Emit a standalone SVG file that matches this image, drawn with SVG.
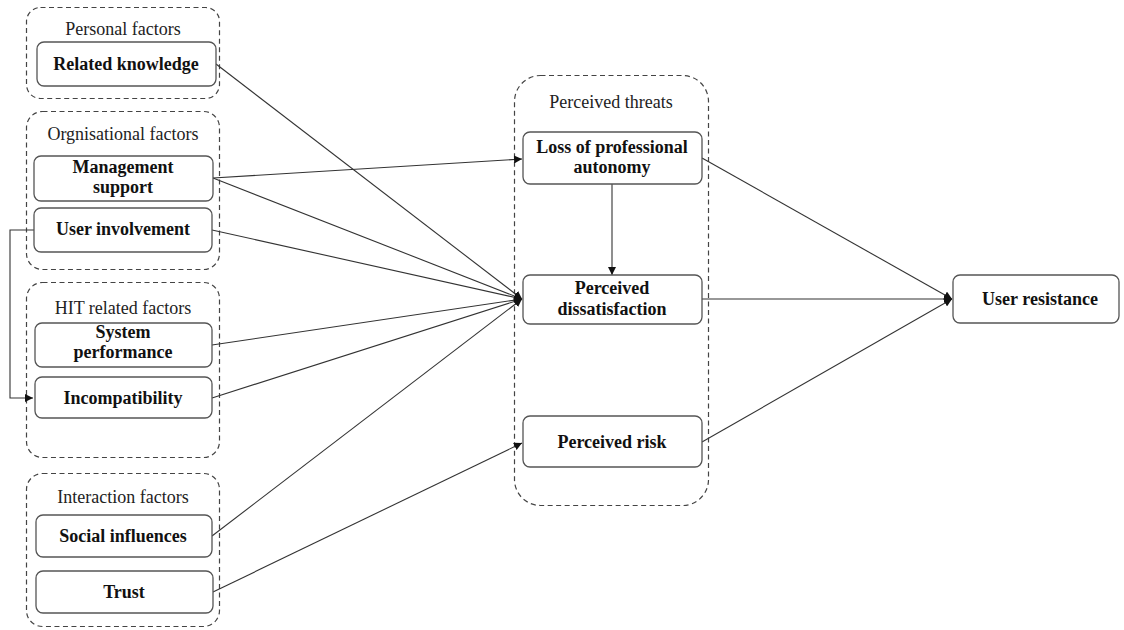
<svg xmlns="http://www.w3.org/2000/svg" width="1124" height="630" viewBox="0 0 1124 630">
  <style>
    .grp { fill: none; stroke: #444; stroke-width: 1.2; stroke-dasharray: 5 3.5; }
    .box { fill: #fff; stroke: #555; stroke-width: 1.3; }
    .glabel { font-family: "Liberation Serif", "Times New Roman", serif; font-size: 18px; fill: #222; text-anchor: middle; }
    .nlabel { font-family: "Liberation Serif", "Times New Roman", serif; font-size: 18px; font-weight: bold; fill: #111; text-anchor: middle; }
    .edge { fill: none; stroke: #333; stroke-width: 1.1; }
  </style>
  <defs>
    <marker id="arrow" viewBox="0 0 10 10" refX="10" refY="5" markerWidth="8" markerHeight="8" markerUnits="userSpaceOnUse" orient="auto">
      <path d="M0,0 L10,5 L0,10 z" fill="#111"/>
    </marker>
  </defs>
  <rect width="1124" height="630" fill="#fff"/>

  <!-- factor groups -->
  <g id="group-personal">
    <rect class="grp" x="26.5" y="7.5" width="193" height="91" rx="14"/>
    <text class="glabel" x="123" y="35">Personal factors</text>
  </g>
  <g id="group-organisational">
    <rect class="grp" x="26.5" y="111.5" width="193" height="158" rx="16"/>
    <text class="glabel" x="123" y="140">Orgnisational factors</text>
  </g>
  <g id="group-hit">
    <rect class="grp" x="26.5" y="282.5" width="193" height="175" rx="16"/>
    <text class="glabel" x="123" y="314">HIT related factors</text>
  </g>
  <g id="group-interaction">
    <rect class="grp" x="26.5" y="473.5" width="193" height="153" rx="16"/>
    <text class="glabel" x="123" y="503">Interaction factors</text>
  </g>
  <g id="group-threats">
    <rect class="grp" x="514.5" y="75.5" width="194" height="430" rx="26"/>
    <text class="glabel" x="611" y="108">Perceived threats</text>
  </g>

  <!-- connectors -->
  <g id="connectors">
    <path class="edge" d="M216,64 L522,299" marker-end="url(#arrow)"/>
    <path class="edge" d="M213,178 L522,159" marker-end="url(#arrow)"/>
    <path class="edge" d="M213,178 L522,299" marker-end="url(#arrow)"/>
    <path class="edge" d="M212,230 L522,299" marker-end="url(#arrow)"/>
    <path class="edge" d="M212,345 L522,299" marker-end="url(#arrow)"/>
    <path class="edge" d="M212,398 L522,299" marker-end="url(#arrow)"/>
    <path class="edge" d="M212,536 L522,299" marker-end="url(#arrow)"/>
    <path class="edge" d="M213,592 L522,443" marker-end="url(#arrow)"/>
    <path class="edge" d="M34,230 L10,230 L10,398 L33,398" marker-end="url(#arrow)"/>
    <path class="edge" d="M612,184 L612,275" marker-end="url(#arrow)"/>
    <path class="edge" d="M702,158 L952,299" marker-end="url(#arrow)"/>
    <path class="edge" d="M702,299 L952,299" marker-end="url(#arrow)"/>
    <path class="edge" d="M702,442 L952,299" marker-end="url(#arrow)"/>
  </g>

  <!-- nodes -->
  <g id="node-related-knowledge">
    <rect class="box" x="37" y="42" width="179" height="44" rx="7"/>
    <text class="nlabel" x="126" y="70">Related knowledge</text>
  </g>
  <g id="node-management-support">
    <rect class="box" x="34" y="156" width="179" height="45" rx="7"/>
    <text class="nlabel" x="123" y="172.5">Management</text>
    <text class="nlabel" x="123" y="193">support</text>
  </g>
  <g id="node-user-involvement">
    <rect class="box" x="34" y="208" width="178" height="44" rx="7"/>
    <text class="nlabel" x="123" y="235">User involvement</text>
  </g>
  <g id="node-system-performance">
    <rect class="box" x="35" y="323" width="177" height="44" rx="7"/>
    <text class="nlabel" x="123" y="338">System</text>
    <text class="nlabel" x="123" y="358">performance</text>
  </g>
  <g id="node-incompatibility">
    <rect class="box" x="35" y="377" width="177" height="41" rx="7"/>
    <text class="nlabel" x="123" y="404">Incompatibility</text>
  </g>
  <g id="node-social-influences">
    <rect class="box" x="36" y="515" width="176" height="42" rx="7"/>
    <text class="nlabel" x="123" y="542">Social influences</text>
  </g>
  <g id="node-trust">
    <rect class="box" x="36" y="571" width="177" height="42" rx="7"/>
    <text class="nlabel" x="124" y="598">Trust</text>
  </g>
  <g id="node-loss-autonomy">
    <rect class="box" x="523" y="132" width="179" height="52" rx="7"/>
    <text class="nlabel" x="612" y="153">Loss of professional</text>
    <text class="nlabel" x="612" y="173">autonomy</text>
  </g>
  <g id="node-perceived-dissatisfaction">
    <rect class="box" x="523" y="275" width="179" height="49" rx="7"/>
    <text class="nlabel" x="612" y="294">Perceived</text>
    <text class="nlabel" x="612" y="315">dissatisfaction</text>
  </g>
  <g id="node-perceived-risk">
    <rect class="box" x="523" y="416" width="179" height="51" rx="7"/>
    <text class="nlabel" x="612" y="448">Perceived risk</text>
  </g>
  <g id="node-user-resistance">
    <rect class="box" x="953" y="275" width="166" height="48" rx="7"/>
    <text class="nlabel" x="1040" y="305">User resistance</text>
  </g>
</svg>
